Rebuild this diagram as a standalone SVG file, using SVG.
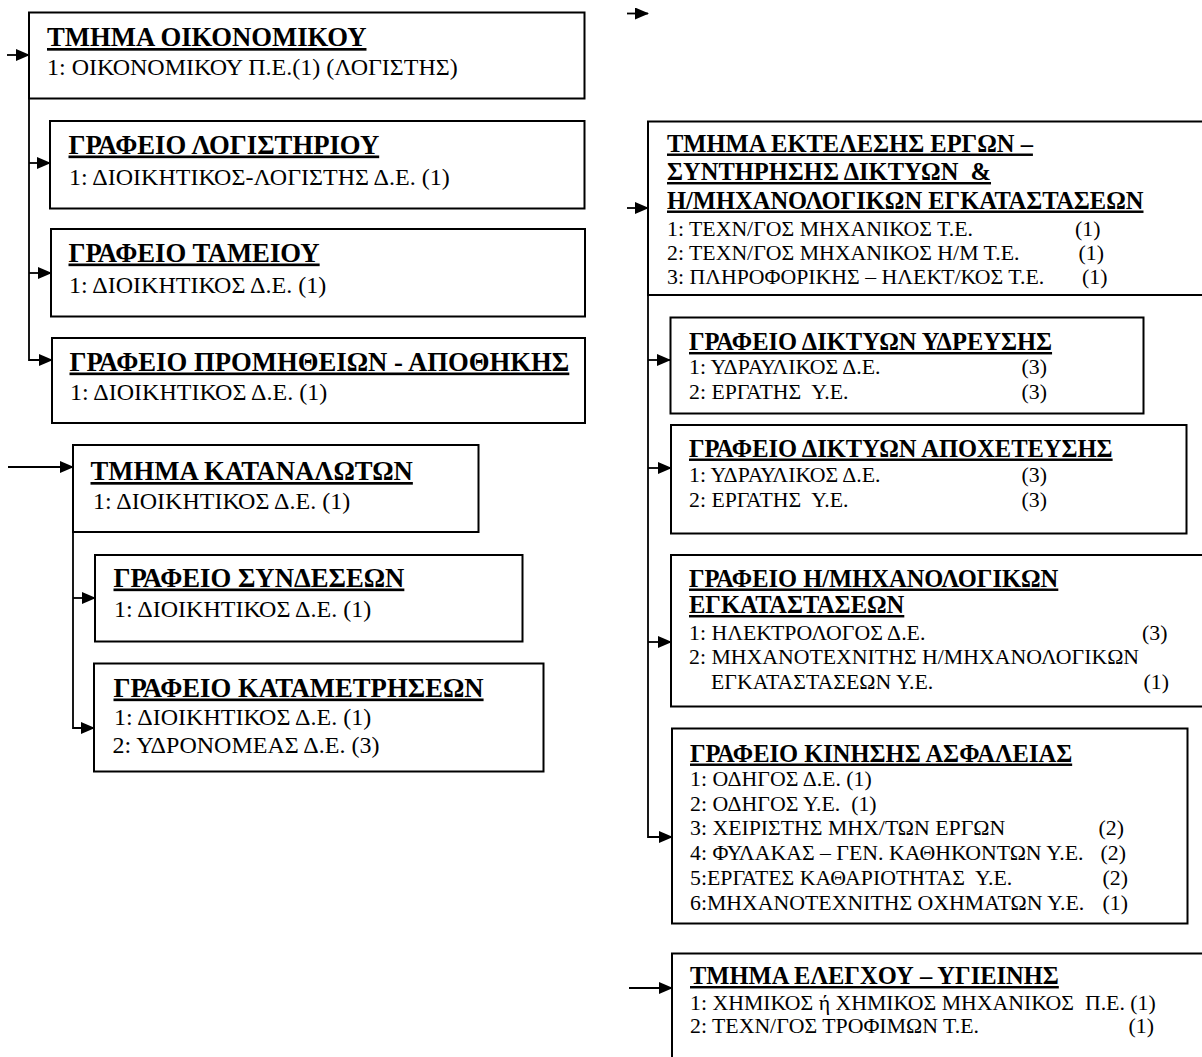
<svg xmlns="http://www.w3.org/2000/svg" width="1202" height="1057" viewBox="0 0 1202 1057">
<defs>
<marker id="ah" markerUnits="userSpaceOnUse" markerWidth="14" markerHeight="12" refX="13" refY="6" orient="auto">
<path d="M0,0 L14,6 L0,12 z" fill="#000"/>
</marker>
<style>
.box{fill:none;stroke:#000;stroke-width:2}
.arr{fill:none;stroke:#000;stroke-width:1.8;marker-end:url(#ah)}
text{font-family:"Liberation Serif","Times New Roman",serif;fill:#000;white-space:pre}
.t1{font-size:26.7px;font-weight:bold;text-decoration:underline;text-decoration-thickness:2.5px}
.b1{font-size:24px}
.t2{font-size:24.5px;font-weight:bold;text-decoration:underline;text-decoration-thickness:2.5px}
.b2{font-size:21.8px}
</style>
</defs>
<rect width="1202" height="1057" fill="#fff"/>
<g id="connectors">
<line class="arr" x1="7" y1="55" x2="29" y2="55"/>
<path class="arr" d="M29,98 V360 H52"/>
<line class="arr" x1="29" y1="163" x2="50" y2="163"/>
<line class="arr" x1="29" y1="273" x2="51" y2="273"/>
<line class="arr" x1="8" y1="467" x2="73" y2="467"/>
<path class="arr" d="M73,532 V728 H94"/>
<line class="arr" x1="73" y1="598" x2="95" y2="598"/>
<line class="arr" x1="627" y1="13.5" x2="648" y2="13.5"/>
<line class="arr" x1="627" y1="208" x2="648" y2="208"/>
<path class="arr" d="M648,295 V837 H672"/>
<line class="arr" x1="648" y1="360" x2="670" y2="360"/>
<line class="arr" x1="648" y1="468" x2="671" y2="468"/>
<line class="arr" x1="648" y1="642" x2="671" y2="642"/>
<line class="arr" x1="629" y1="988" x2="672" y2="988"/>
</g>
<g id="tmima-oikonomikou">
<rect class="box" x="29" y="12.5" width="555.5" height="86"/>
<text class="t1" x="47" y="46">ΤΜΗΜΑ ΟΙΚΟΝΟΜΙΚΟΥ</text>
<text class="b1" x="47" y="75">1: ΟΙΚΟΝΟΜΙΚΟΥ Π.Ε.(1) (ΛΟΓΙΣΤΗΣ)</text>
</g>
<g id="grafeio-logistiriou">
<rect class="box" x="50" y="121" width="534.5" height="87.5"/>
<text class="t1" x="68.5" y="153.5">ΓΡΑΦΕΙΟ ΛΟΓΙΣΤΗΡΙΟΥ</text>
<text class="b1" x="69" y="185">1: ΔΙΟΙΚΗΤΙΚΟΣ-ΛΟΓΙΣΤΗΣ Δ.Ε. (1)</text>
</g>
<g id="grafeio-tameiou">
<rect class="box" x="51" y="229" width="534" height="87.5"/>
<text class="t1" x="68.5" y="261.5">ΓΡΑΦΕΙΟ ΤΑΜΕΙΟΥ</text>
<text class="b1" x="69" y="292.5">1: ΔΙΟΙΚΗΤΙΚΟΣ Δ.Ε. (1)</text>
</g>
<g id="grafeio-promitheion">
<rect class="box" x="52" y="338" width="533" height="85"/>
<text class="t1" x="69.5" y="370.5">ΓΡΑΦΕΙΟ ΠΡΟΜΗΘΕΙΩΝ - ΑΠΟΘΗΚΗΣ</text>
<text class="b1" x="70" y="400">1: ΔΙΟΙΚΗΤΙΚΟΣ Δ.Ε. (1)</text>
</g>
<g id="tmima-katanaloton">
<rect class="box" x="73" y="445" width="405.5" height="87"/>
<text class="t1" x="90.5" y="480">ΤΜΗΜΑ ΚΑΤΑΝΑΛΩΤΩΝ</text>
<text class="b1" x="93" y="508.5">1: ΔΙΟΙΚΗΤΙΚΟΣ Δ.Ε. (1)</text>
</g>
<g id="grafeio-syndeseon">
<rect class="box" x="95" y="555" width="427.5" height="86.5"/>
<text class="t1" x="113.5" y="586.5">ΓΡΑΦΕΙΟ ΣΥΝΔΕΣΕΩΝ</text>
<text class="b1" x="114" y="616.5">1: ΔΙΟΙΚΗΤΙΚΟΣ Δ.Ε. (1)</text>
</g>
<g id="grafeio-katametriseon">
<rect class="box" x="94" y="663.5" width="449.5" height="108"/>
<text class="t1" x="113.5" y="696.5">ΓΡΑΦΕΙΟ ΚΑΤΑΜΕΤΡΗΣΕΩΝ</text>
<text class="b1" x="114" y="725">1: ΔΙΟΙΚΗΤΙΚΟΣ Δ.Ε. (1)</text>
<text class="b1" x="112.5" y="753">2: ΥΔΡΟΝΟΜΕΑΣ Δ.Ε. (3)</text>
</g>
<g id="tmima-ektelesis">
<rect class="box" x="648" y="121.5" width="570" height="173.5"/>
<text class="t2" x="667" y="151.5">ΤΜΗΜΑ ΕΚΤΕΛΕΣΗΣ ΕΡΓΩΝ –</text>
<text class="t2" x="667" y="180">ΣΥΝΤΗΡΗΣΗΣ ΔΙΚΤΥΩΝ  &amp;</text>
<text class="t2" x="667" y="208.5">Η/ΜΗΧΑΝΟΛΟΓΙΚΩΝ ΕΓΚΑΤΑΣΤΑΣΕΩΝ</text>
<text class="b2" x="667" y="235.5">1: ΤΕΧΝ/ΓΟΣ ΜΗΧΑΝΙΚΟΣ Τ.Ε.<tspan x="1075">(1)</tspan></text>
<text class="b2" x="667" y="259.5">2: ΤΕΧΝ/ΓΟΣ ΜΗΧΑΝΙΚΟΣ Η/Μ Τ.Ε.<tspan x="1078.5">(1)</tspan></text>
<text class="b2" x="667" y="283.5">3: ΠΛΗΡΟΦΟΡΙΚΗΣ – ΗΛΕΚΤ/ΚΟΣ Τ.Ε.<tspan x="1082">(1)</tspan></text>
</g>
<g id="grafeio-ydreysis">
<rect class="box" x="670.5" y="317.5" width="473" height="96"/>
<text class="t2" x="689" y="350">ΓΡΑΦΕΙΟ ΔΙΚΤΥΩΝ ΥΔΡΕΥΣΗΣ</text>
<text class="b2" x="689" y="373.5">1: ΥΔΡΑΥΛΙΚΟΣ Δ.Ε.<tspan x="1021.5">(3)</tspan></text>
<text class="b2" x="689" y="398.5">2: ΕΡΓΑΤΗΣ  Υ.Ε.<tspan x="1021.5">(3)</tspan></text>
</g>
<g id="grafeio-apoxeteysis">
<rect class="box" x="671" y="425" width="515.5" height="108.5"/>
<text class="t2" x="689" y="456.5">ΓΡΑΦΕΙΟ ΔΙΚΤΥΩΝ ΑΠΟΧΕΤΕΥΣΗΣ</text>
<text class="b2" x="689" y="481.5">1: ΥΔΡΑΥΛΙΚΟΣ Δ.Ε.<tspan x="1021.5">(3)</tspan></text>
<text class="b2" x="689" y="506.5">2: ΕΡΓΑΤΗΣ  Υ.Ε.<tspan x="1021.5">(3)</tspan></text>
</g>
<g id="grafeio-hm-egkatastaseon">
<rect class="box" x="671" y="555" width="545" height="151.5"/>
<text class="t2" x="689" y="586.5">ΓΡΑΦΕΙΟ Η/ΜΗΧΑΝΟΛΟΓΙΚΩΝ</text>
<text class="t2" x="689" y="613">ΕΓΚΑΤΑΣΤΑΣΕΩΝ</text>
<text class="b2" x="689" y="640">1: ΗΛΕΚΤΡΟΛΟΓΟΣ Δ.Ε.<tspan x="1142">(3)</tspan></text>
<text class="b2" x="689" y="664">2: ΜΗΧΑΝΟΤΕΧΝΙΤΗΣ Η/ΜΗΧΑΝΟΛΟΓΙΚΩΝ</text>
<text class="b2" x="711" y="688.5">ΕΓΚΑΤΑΣΤΑΣΕΩΝ Υ.Ε.<tspan x="1143.5">(1)</tspan></text>
</g>
<g id="grafeio-kinisis">
<rect class="box" x="672" y="728.5" width="515.5" height="195"/>
<text class="t2" x="690" y="761.5">ΓΡΑΦΕΙΟ ΚΙΝΗΣΗΣ ΑΣΦΑΛΕΙΑΣ</text>
<text class="b2" x="690" y="786">1: ΟΔΗΓΟΣ Δ.Ε. (1)</text>
<text class="b2" x="690" y="810.5">2: ΟΔΗΓΟΣ Υ.Ε.  (1)</text>
<text class="b2" x="690" y="835">3: ΧΕΙΡΙΣΤΗΣ ΜΗΧ/ΤΩΝ ΕΡΓΩΝ<tspan x="1098.5">(2)</tspan></text>
<text class="b2" x="690" y="860">4: ΦΥΛΑΚΑΣ – ΓΕΝ. ΚΑΘΗΚΟΝΤΩΝ Υ.Ε.<tspan x="1100.5">(2)</tspan></text>
<text class="b2" x="690" y="885">5:ΕΡΓΑΤΕΣ ΚΑΘΑΡΙΟΤΗΤΑΣ  Υ.Ε.<tspan x="1102.5">(2)</tspan></text>
<text class="b2" x="690" y="910">6:ΜΗΧΑΝΟΤΕΧΝΙΤΗΣ ΟΧΗΜΑΤΩΝ Υ.Ε.<tspan x="1102.5">(1)</tspan></text>
</g>
<g id="tmima-elegxou">
<rect class="box" x="672" y="953.5" width="545" height="120"/>
<text class="t2" x="690" y="984">ΤΜΗΜΑ ΕΛΕΓΧΟΥ – ΥΓΙΕΙΝΗΣ</text>
<text class="b2" x="690" y="1010">1: ΧΗΜΙΚΟΣ ή ΧΗΜΙΚΟΣ ΜΗΧΑΝΙΚΟΣ  Π.Ε. (1)</text>
<text class="b2" x="690" y="1033">2: ΤΕΧΝ/ΓΟΣ ΤΡΟΦΙΜΩΝ Τ.Ε.<tspan x="1128.5">(1)</tspan></text>
</g>
</svg>
